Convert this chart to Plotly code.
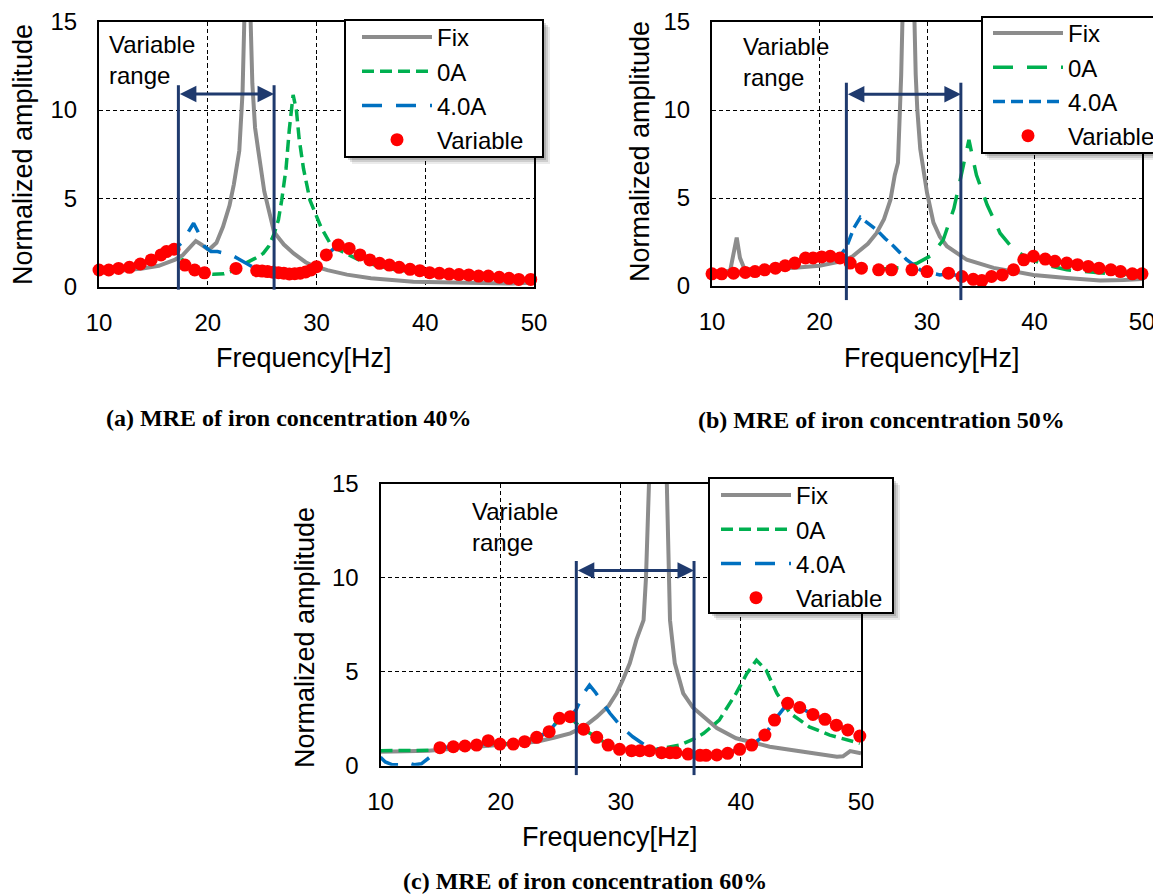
import plotly.graph_objects as go

PAGE_OFFSET = 8                      # browser body margin
W, H = 1161 - PAGE_OFFSET, 896 - PAGE_OFFSET
X_RANGE = [10, 50]
Y_RANGE = [0, 15]
X_TICKS = [10, 20, 30, 40, 50]
Y_TICKS = [0, 5, 10, 15]
SERIES_NAMES = ["Fix", "0A", "4.0A", "Variable"]

# ---------------- Panel (a): iron concentration 40% ----------------
fix_a_freq = [10, 12, 14, 15.5, 17, 17.7, 18.3, 18.9, 19.4, 20.1, 20.8, 21.4, 22.0, 22.4, 22.9, 23.2, 23.4, 23.9, 24.1, 24.35,
              24.65, 25.2, 26.1, 27.0, 27.9, 29.0, 29.7, 31.0, 32.8, 35.0, 38.9, 42.0, 45.0, 48.0, 50.0]
fix_a_amp = [0.8, 0.9, 1.05, 1.2, 1.55, 1.8, 2.2, 2.6, 2.4, 2.1, 2.5, 3.4, 4.6, 5.8, 7.7, 11.0, 16.0, 16.0, 11.5, 9.0,
             7.7, 5.4, 3.1, 2.4, 1.9, 1.4, 1.2, 0.95, 0.7, 0.5, 0.3, 0.25, 0.2, 0.2, 0.25]
a0_a_freq = [10, 12, 14, 15.7, 16.9, 17.5, 18.0, 18.9, 19.8, 20.5, 21.5, 22.5, 23.5, 24.3, 25.1, 25.6, 26.1, 26.5, 26.8, 27.2,
             27.5, 27.85, 28.15, 28.4, 28.8, 29.4, 30.4, 31.4, 32.4, 34.0, 35.3, 37.0, 40.0, 45.0, 50.0]
a0_a_amp = [0.95, 1.05, 1.3, 1.8, 2.1, 1.7, 1.25, 0.96, 0.77, 0.72, 0.75, 0.95, 1.35, 1.6, 1.9, 2.3, 3.0, 3.8, 4.9, 6.7,
            8.9, 10.85, 10.0, 8.4, 6.7, 4.9, 3.4, 2.3, 2.0, 1.5, 1.25, 1.0, 0.78, 0.55, 0.4]
a4_a_freq = [10, 12, 14, 15.7, 16.9, 17.6, 18.2, 18.7, 19.2, 19.7, 20.3, 20.9, 21.6, 22.2, 22.8, 23.5, 24.5, 26.0, 28.0, 29.4,
             30.0, 30.9, 32.0, 33.0, 34.0, 35.8, 37.6, 39.5, 42.2, 45.8, 49.7]
a4_a_amp = [0.95, 1.05, 1.3, 1.8, 2.1, 2.5, 3.1, 3.6, 3.0, 2.3, 2.0, 2.0, 1.9, 1.8, 1.6, 1.35, 1.0, 0.8, 0.75, 0.96,
            1.15, 1.81, 2.37, 2.18, 1.81, 1.34, 1.11, 0.92, 0.73, 0.62, 0.43]
var_a_freq = [10.0, 10.9, 11.8, 12.8, 13.8, 14.8, 15.7, 16.2, 16.9, 17.9, 18.8, 19.7, 22.6, 24.5, 25.0, 25.5, 26.0, 26.5, 27.0, 27.5,
              28.0, 28.5, 29.0, 29.5, 30.0, 30.9, 32.0, 33.0, 34.0, 34.9, 35.8, 36.7, 37.6, 38.6, 39.5, 40.4, 41.3, 42.2, 43.1, 44.0,
              44.9, 45.8, 46.8, 47.7, 48.6, 49.7]
var_a_amp = [0.96, 0.96, 1.05, 1.11, 1.30, 1.53, 1.81, 2.0, 2.13, 1.24, 0.96, 0.8, 1.05, 0.92, 0.9, 0.87, 0.84, 0.81, 0.78, 0.74,
             0.75, 0.78, 0.85, 0.96, 1.15, 1.81, 2.37, 2.18, 1.81, 1.53, 1.34, 1.24, 1.11, 1.0, 0.92, 0.81, 0.77, 0.73, 0.70, 0.68,
             0.62, 0.62, 0.55, 0.49, 0.43, 0.43]
range_a = [17.3, 26.1]                 # variable range limits [Hz]
range_a_levels = [-0.15, 11.4, 10.9]   # line bottom, line top, arrow level

# ---------------- Panel (b): iron concentration 50% ----------------
fix_b_freq = [10, 11, 11.7, 12.0, 12.3, 12.6, 13.0, 14, 16, 18, 20, 21, 22, 23, 23.5, 24.5, 25.3, 26.0, 26.6, 27.0,
              27.3, 27.45, 27.6, 27.75, 28.8, 28.95, 29.1, 29.37, 30.0, 30.6, 31.2, 31.85, 33.7, 36.2, 39.9, 43.0, 46.1, 48.3, 50.0]
fix_b_amp = [0.7, 0.75, 0.9, 1.7, 2.75, 1.6, 1.0, 0.9, 0.95, 1.05, 1.15, 1.25, 1.4, 1.65, 1.9, 2.4, 3.0, 3.8, 4.9, 6.3,
             7.0, 9.0, 12.0, 16.0, 16.0, 12.0, 10.0, 7.8, 5.3, 3.6, 2.8, 2.26, 1.49, 1.03, 0.63, 0.46, 0.31, 0.34, 0.4]
a0_b_freq = [10, 13, 15, 17, 19, 21, 22, 23, 24, 25.5, 27.0, 27.7, 29.1, 30.3, 31.5, 32.5, 33.4, 33.9, 34.6, 35.6,
             36.8, 38.05, 39.5, 41.0, 43.0, 46.0, 50.0]
a0_b_amp = [0.7, 0.77, 0.9, 1.15, 1.5, 1.65, 1.5, 1.25, 1.05, 0.95, 1.0, 1.05, 1.3, 1.7, 2.6, 4.4, 6.9, 8.3, 6.3, 4.6,
            3.0, 2.07, 1.55, 1.2, 0.92, 0.75, 0.6]
a4_b_freq = [10, 13, 15, 17, 18.7, 20.2, 21.0, 21.9, 22.5, 23.2, 23.8, 24.5, 25.3, 26.1, 26.9, 28.1, 29.37, 30.3, 31.2, 32.0,
             33.25, 34.3, 35.1, 36.0, 37.0, 38.05, 39.0, 39.9, 41.0, 43.0, 46.0, 50.0]
a4_b_amp = [0.7, 0.77, 0.92, 1.15, 1.55, 1.62, 1.65, 1.7, 2.2, 3.3, 3.9, 3.6, 3.2, 2.7, 2.26, 1.5, 0.92, 0.75, 0.63, 0.7,
            0.54, 0.38, 0.31, 0.54, 0.63, 0.92, 1.45, 1.65, 1.5, 1.28, 1.0, 0.68]
var_b_freq = [10.0, 10.9, 12.0, 13.1, 14.0, 14.9, 15.9, 16.8, 17.7, 18.7, 19.4, 20.2, 21.0, 21.9, 22.85, 23.9, 25.5, 26.7, 28.6, 30.0,
              32.0, 33.25, 34.3, 35.1, 36.0, 37.0, 38.05, 39.0, 39.9, 41.0, 41.9, 43.0, 44.0, 45.0, 46.0, 47.1, 48.0, 49.1, 50.0]
var_b_amp = [0.69, 0.69, 0.73, 0.77, 0.82, 0.92, 1.01, 1.15, 1.30, 1.59, 1.59, 1.65, 1.69, 1.59, 1.30, 1.01, 0.92, 0.92, 0.92, 0.82,
             0.73, 0.54, 0.38, 0.31, 0.54, 0.63, 0.92, 1.49, 1.69, 1.53, 1.40, 1.30, 1.21, 1.11, 1.01, 0.92, 0.82, 0.69, 0.69]
range_b = [22.5, 33.15]
range_b_levels = [-0.8, 11.55, 10.9]

# ---------------- Panel (c): iron concentration 60% ----------------
fix_c_freq = [10, 12, 14, 16, 18, 20, 22, 23.0, 24.5, 25.8, 27.0, 28.0, 29.0, 29.65, 30.2, 30.75, 31.3, 31.9, 32.1, 32.4,
              33.8, 34.0, 34.1, 34.5, 35.2, 36.0, 36.9, 38.0, 39.6, 42.4, 45.2, 48.0, 48.5, 49.1, 50.0]
fix_c_amp = [0.74, 0.76, 0.8, 0.9, 1.0, 1.1, 1.2, 1.28, 1.5, 1.72, 2.1, 2.6, 3.2, 3.85, 4.6, 5.45, 6.7, 7.75, 10.0, 16.0,
             16.0, 10.0, 7.75, 5.45, 3.85, 3.1, 2.6, 2.0, 1.46, 1.01, 0.74, 0.48, 0.5, 0.78, 0.66]
a0_c_freq = [10, 12, 14, 15.0, 17.0, 19.0, 21.0, 23.0, 24.0, 24.9, 25.8, 26.3, 26.9, 28.0, 29.0, 30.0, 31.0, 32.5, 34.1, 34.9,
             36.0, 36.9, 38.2, 39.6, 40.5, 41.3, 42.1, 43.0, 44.1, 45.7, 47.4, 49.9]
a0_c_amp = [0.8, 0.8, 0.82, 0.96, 1.05, 1.2, 1.15, 1.5, 1.8, 2.5, 2.6, 2.25, 1.94, 1.5, 1.1, 0.87, 0.82, 0.82, 0.99, 1.1,
            1.4, 1.72, 2.43, 3.85, 4.91, 5.62, 5.09, 3.85, 2.79, 2.07, 1.63, 1.19]
a4_c_freq = [10, 10.4, 11.0, 11.6, 12.2, 12.8, 13.4, 14.1, 14.6, 15.0, 17.0, 19.0, 21.0, 23.0, 24.0, 24.9, 25.8, 26.3, 26.9, 27.4,
             27.9, 29.1, 30.0, 31.0, 32.0, 34.0, 36.0, 38.0, 39.9, 40.9, 42.0, 42.8, 43.9, 44.9, 46.0, 47.0, 48.0, 48.9, 49.9]
a4_c_amp = [0.45, 0.2, 0.05, 0.05, 0.18, 0.05, 0.1, 0.45, 0.8, 0.96, 1.05, 1.2, 1.15, 1.5, 1.8, 2.5, 2.6, 3.0, 3.85, 4.29,
            3.9, 2.79, 2.1, 1.54, 1.1, 0.72, 0.6, 0.57, 0.87, 1.1, 1.63, 2.43, 3.32, 3.1, 2.73, 2.47, 2.16, 1.9, 1.58]
var_c_freq = [14.95, 16.06, 17.03, 18.0, 18.97, 19.94, 21.05, 22.0, 23.0, 24.04, 24.9, 25.8, 26.9, 28.0, 28.95, 29.9, 30.9, 31.6, 32.4, 33.4,
              34.1, 34.6, 35.6, 36.6, 37.1, 38.0, 38.9, 39.9, 40.9, 42.0, 42.8, 43.9, 44.9, 46.0, 47.0, 47.95, 48.9, 49.9]
var_c_amp = [0.96, 1.01, 1.05, 1.10, 1.33, 1.15, 1.15, 1.28, 1.51, 1.81, 2.52, 2.61, 1.94, 1.51, 1.10, 0.87, 0.80, 0.80, 0.80, 0.69,
             0.69, 0.69, 0.62, 0.55, 0.55, 0.57, 0.66, 0.87, 1.10, 1.63, 2.43, 3.32, 3.10, 2.73, 2.47, 2.16, 1.90, 1.58]
range_c = [26.3, 36.1]
range_c_levels = [-0.5, 10.9, 10.4]

titles = ["(a) MRE of iron concentration 40%",
          "(b) MRE of iron concentration 50%",
          "(c) MRE of iron concentration 60%"]

# ---------------- styling ----------------
GRAY, GREEN, BLUE, RED, NAVY = "#8c8c8c", "#00b050", "#0070c0", "#ff0000", "#1f3a6e"
SANS = "Liberation Sans, Arial, sans-serif"
SERIF = "Liberation Serif, Times New Roman, serif"
SHORT_DASH, LONG_DASH = "12px,6px", "20px,14px"


def px(x):
    return (x - PAGE_OFFSET) / W


def py(y):
    return 1 - (y - PAGE_OFFSET) / H


# layout positions in page pixels
panels = [
    dict(box=(99, 534, 21.5, 287), data=(fix_a_freq, fix_a_amp, a0_a_freq, a0_a_amp, a4_a_freq, a4_a_amp, var_a_freq, var_a_amp),
         dash0=SHORT_DASH, dash4=LONG_DASH, rng=range_a, lv=range_a_levels, text_xy=(10.7, 12.85),
         legbox=(345, 20, 543, 157), legend_px=(355, 13), ytitle_px=(23, 155), xtitle_px=(304, 358), title_px=(289, 418)),
    dict(box=(712, 1142, 22, 286), data=(fix_b_freq, fix_b_amp, a0_b_freq, a0_b_amp, a4_b_freq, a4_b_amp, var_b_freq, var_b_amp),
         dash0=LONG_DASH, dash4=SHORT_DASH, rng=range_b, lv=range_b_levels, text_xy=(12.7, 12.75),
         legbox=(982, 17, 1190, 153), legend_px=(986, 9), ytitle_px=(640, 152), xtitle_px=(932, 358), title_px=(881, 420)),
    dict(box=(380.5, 861, 484, 765.7), data=(fix_c_freq, fix_c_amp, a0_c_freq, a0_c_amp, a4_c_freq, a4_c_amp, var_c_freq, var_c_amp),
         dash0=SHORT_DASH, dash4=LONG_DASH, rng=range_c, lv=range_c_levels, text_xy=(17.45, 12.7),
         legbox=(709, 478, 893, 613), legend_px=(714, 471), ytitle_px=(305, 638), xtitle_px=(610, 837), title_px=(585, 881)),
]

fig = go.Figure()
layout = dict(width=W, height=H, margin=dict(l=0, r=0, t=0, b=0, autoexpand=False),
              paper_bgcolor="white", plot_bgcolor="white", showlegend=True)
annotations, shapes, box_shapes = [], [], []

for i, p in enumerate(panels):
    n = "" if i == 0 else str(i + 1)
    xa, ya = "x" + n, "y" + n
    leg = "legend" + n
    ff, fa, f0, a0, f4, a4, fv, av = p["data"]
    fig.add_trace(go.Scatter(x=ff, y=fa, mode="lines", name=SERIES_NAMES[0], xaxis=xa, yaxis=ya, legend=leg,
                             line=dict(color=GRAY, width=4)))
    fig.add_trace(go.Scatter(x=f0, y=a0, mode="lines", name=SERIES_NAMES[1], xaxis=xa, yaxis=ya, legend=leg,
                             line=dict(color=GREEN, width=3.5, dash=p["dash0"])))
    fig.add_trace(go.Scatter(x=f4, y=a4, mode="lines", name=SERIES_NAMES[2], xaxis=xa, yaxis=ya, legend=leg,
                             line=dict(color=BLUE, width=3.5, dash=p["dash4"])))
    fig.add_trace(go.Scatter(x=fv, y=av, mode="markers", name=SERIES_NAMES[3], xaxis=xa, yaxis=ya, legend=leg,
                             cliponaxis=False, marker=dict(color=RED, size=13, line=dict(width=0))))

    l, r, t, b = p["box"]
    axis_common = dict(showline=True, linecolor="black", linewidth=2, mirror=True, showgrid=True,
                       gridcolor="black", gridwidth=1, griddash="4px,3px", zeroline=False, ticks="",
                       ticklabeloverflow="allow",
                       tickfont=dict(family=SANS, size=24, color="black"))
    layout["xaxis" + n] = dict(axis_common, domain=[px(l), px(r)], range=X_RANGE, tickvals=X_TICKS,
                               anchor=ya, ticklabelstandoff=13)
    layout["yaxis" + n] = dict(axis_common, domain=[py(b), py(t)], range=Y_RANGE, tickvals=Y_TICKS,
                               anchor=xa, ticklabelstandoff=15)

    # legend frame with soft shadow (drawn as shapes), legend items on top
    bl, bt, br, bb = p["legbox"]
    for off, alpha in ((7, 0.08), (5, 0.12), (3, 0.15)):
        box_shapes.append(dict(type="rect", xref="paper", yref="paper", x0=px(bl + off), x1=px(br + off),
                               y0=py(bb + off), y1=py(bt + off), fillcolor="rgba(0,0,0,%s)" % alpha,
                               line=dict(width=0), layer="above"))
    box_shapes.append(dict(type="rect", xref="paper", yref="paper", x0=px(bl), x1=px(br), y0=py(bb), y1=py(bt),
                           fillcolor="white", line=dict(color="black", width=2), layer="above"))
    lx, ly = p["legend_px"]
    layout[leg] = dict(x=px(lx), y=py(ly), xanchor="left", yanchor="top", bgcolor="rgba(0,0,0,0)",
                       bordercolor="rgba(0,0,0,0)", borderwidth=2, itemwidth=70, tracegroupgap=0,
                       font=dict(family=SANS, size=24, color="black"))

    # variable range: vertical limit lines and double arrow
    lo, hi = p["rng"]
    y_bot, y_top, y_arrow = p["lv"]
    for f in (lo, hi):
        xf = (f - X_RANGE[0]) / (X_RANGE[1] - X_RANGE[0])
        shapes.append(dict(type="line", xref=xa + " domain", yref=ya + " domain", x0=xf, x1=xf,
                           y0=(y_bot - Y_RANGE[0]) / (Y_RANGE[1] - Y_RANGE[0]),
                           y1=(y_top - Y_RANGE[0]) / (Y_RANGE[1] - Y_RANGE[0]),
                           line=dict(color=NAVY, width=3), layer="above"))
    annotations.append(dict(x=hi, y=y_arrow, ax=lo, ay=y_arrow, xref=xa, yref=ya, axref=xa, ayref=ya,
                            text="", showarrow=True, arrowhead=2, startarrowhead=2, arrowside="end+start",
                            arrowsize=1.1, startarrowsize=1.1, arrowwidth=3, arrowcolor=NAVY,
                            standoff=0, startstandoff=0))
    tx, ty = p["text_xy"]
    annotations.append(dict(x=tx, y=ty, xref=xa, yref=ya, text="Variable<br>range", showarrow=False,
                            xanchor="left", yanchor="middle", align="left",
                            font=dict(family=SANS, size=24, color="black")))
    # axis titles and panel caption
    tx_, ty_ = p["ytitle_px"]
    annotations.append(dict(x=px(tx_), y=py(ty_), xref="paper", yref="paper", text="Normalized amplitude",
                            textangle=-90, showarrow=False, xanchor="center", yanchor="middle",
                            font=dict(family=SANS, size=27, color="black")))
    tx_, ty_ = p["xtitle_px"]
    annotations.append(dict(x=px(tx_), y=py(ty_), xref="paper", yref="paper", text="Frequency[Hz]",
                            showarrow=False, xanchor="center", yanchor="middle",
                            font=dict(family=SANS, size=27, color="black")))
    tx_, ty_ = p["title_px"]
    annotations.append(dict(x=px(tx_), y=py(ty_), xref="paper", yref="paper", text="<b>%s</b>" % titles[i],
                            showarrow=False, xanchor="center", yanchor="middle",
                            font=dict(family=SERIF, size=24, color="black")))

layout["annotations"] = annotations
layout["shapes"] = shapes + box_shapes
fig.update_layout(**layout)
fig.write_html("out.html")
